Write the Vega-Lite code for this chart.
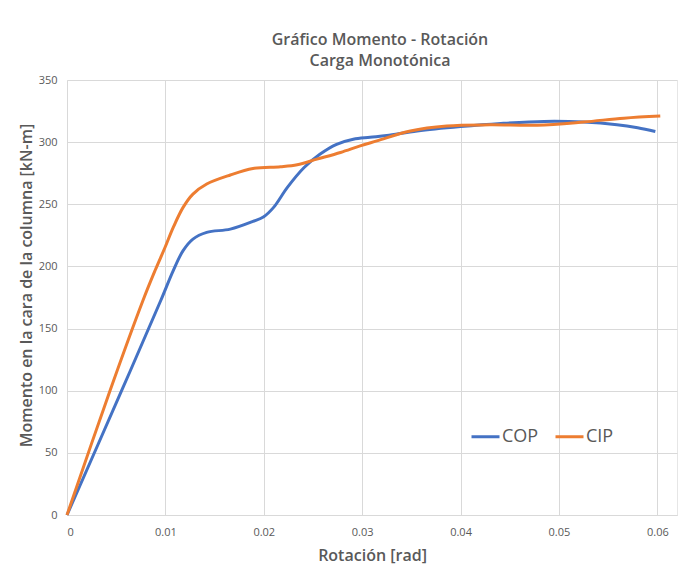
{
  "$schema": "https://vega.github.io/schema/vega-lite/v6.json",
  "width": 610,
  "height": 435,
  "autosize": "none",
  "padding": {"left": 67, "top": 80, "right": 9, "bottom": 58},
  "background": "white",
  "config": {
    "font": "Open Sans",
    "view": {"stroke": "#E6E6E6", "strokeWidth": 1}
  },
  "title": {
    "text": ["Gráfico Momento - Rotación", "Carga Monotónica"],
    "fontSize": 16,
    "fontWeight": 600,
    "color": "#595959",
    "anchor": "middle",
    "dx": 8,
    "offset": 5,
    "lineHeight": 21
  },
  "data": {
    "values": [
      {"rot": 0, "m": 0, "serie": "COP"},
      {"rot": 0.00555, "m": 100, "serie": "COP"},
      {"rot": 0.00953, "m": 172.6, "serie": "COP"},
      {"rot": 0.0108, "m": 196.7, "serie": "COP"},
      {"rot": 0.0118, "m": 212.7, "serie": "COP"},
      {"rot": 0.0128, "m": 222, "serie": "COP"},
      {"rot": 0.0142, "m": 227.4, "serie": "COP"},
      {"rot": 0.0166, "m": 230, "serie": "COP"},
      {"rot": 0.0189, "m": 236.2, "serie": "COP"},
      {"rot": 0.02, "m": 240, "serie": "COP"},
      {"rot": 0.021, "m": 247.5, "serie": "COP"},
      {"rot": 0.0224, "m": 263.6, "serie": "COP"},
      {"rot": 0.0241, "m": 279.6, "serie": "COP"},
      {"rot": 0.0257, "m": 290.3, "serie": "COP"},
      {"rot": 0.0274, "m": 298.3, "serie": "COP"},
      {"rot": 0.0291, "m": 302.4, "serie": "COP"},
      {"rot": 0.0308, "m": 303.9, "serie": "COP"},
      {"rot": 0.0325, "m": 305.3, "serie": "COP"},
      {"rot": 0.0356, "m": 309, "serie": "COP"},
      {"rot": 0.04, "m": 312.5, "serie": "COP"},
      {"rot": 0.0441, "m": 315, "serie": "COP"},
      {"rot": 0.0485, "m": 316.7, "serie": "COP"},
      {"rot": 0.0525, "m": 316.2, "serie": "COP"},
      {"rot": 0.0559, "m": 314, "serie": "COP"},
      {"rot": 0.058, "m": 311.5, "serie": "COP"},
      {"rot": 0.0598, "m": 308.5, "serie": "COP"},
      {"rot": 0, "m": 0, "serie": "CIP"},
      {"rot": 0.00437, "m": 100, "serie": "CIP"},
      {"rot": 0.00772, "m": 172.6, "serie": "CIP"},
      {"rot": 0.00895, "m": 196.7, "serie": "CIP"},
      {"rot": 0.00997, "m": 215.4, "serie": "CIP"},
      {"rot": 0.0108, "m": 231.4, "serie": "CIP"},
      {"rot": 0.0118, "m": 247.5, "serie": "CIP"},
      {"rot": 0.0128, "m": 258.2, "serie": "CIP"},
      {"rot": 0.0142, "m": 266.3, "serie": "CIP"},
      {"rot": 0.0166, "m": 273.6, "serie": "CIP"},
      {"rot": 0.0189, "m": 278.8, "serie": "CIP"},
      {"rot": 0.0217, "m": 280.2, "serie": "CIP"},
      {"rot": 0.0234, "m": 281.8, "serie": "CIP"},
      {"rot": 0.0254, "m": 286.3, "serie": "CIP"},
      {"rot": 0.0278, "m": 291.7, "serie": "CIP"},
      {"rot": 0.0298, "m": 297, "serie": "CIP"},
      {"rot": 0.0315, "m": 301, "serie": "CIP"},
      {"rot": 0.0349, "m": 309, "serie": "CIP"},
      {"rot": 0.0386, "m": 313, "serie": "CIP"},
      {"rot": 0.043, "m": 313.9, "serie": "CIP"},
      {"rot": 0.0478, "m": 313.6, "serie": "CIP"},
      {"rot": 0.0525, "m": 316.2, "serie": "CIP"},
      {"rot": 0.0566, "m": 319.3, "serie": "CIP"},
      {"rot": 0.0603, "m": 321, "serie": "CIP"}
    ]
  },
  "mark": {"type": "line", "interpolate": "catmull-rom", "strokeWidth": 3},
  "encoding": {
    "x": {
      "field": "rot",
      "type": "quantitative",
      "scale": {"domain": [0, 0.062], "nice": false, "zero": true},
      "axis": {
        "title": "Rotación [rad]",
        "values": [0, 0.01, 0.02, 0.03, 0.04, 0.05, 0.06],
        "format": ".2~f",
        "grid": true,
        "gridColor": "#D9D9D9",
        "domainColor": "#D9D9D9",
        "ticks": false,
        "labelPadding": 11,
        "labelFontSize": 11,
        "labelColor": "#595959",
        "titleFontSize": 16,
        "titleFontWeight": 600,
        "titleColor": "#595959",
        "titlePadding": 10
      }
    },
    "y": {
      "field": "m",
      "type": "quantitative",
      "scale": {"domain": [0, 350], "nice": false},
      "axis": {
        "title": "Momento en la cara de la columna  [kN-m]",
        "values": [0, 50, 100, 150, 200, 250, 300, 350],
        "grid": true,
        "gridColor": "#D9D9D9",
        "domain": false,
        "ticks": false,
        "labelPadding": 10,
        "labelFontSize": 11,
        "labelColor": "#595959",
        "titleFontSize": 16,
        "titleFontWeight": 600,
        "titleColor": "#595959",
        "titlePadding": 4,
        "titleY": 205
      }
    },
    "color": {
      "field": "serie",
      "type": "nominal",
      "scale": {"domain": ["COP", "CIP"], "range": ["#4472C4", "#ED7D31"]},
      "legend": {
        "title": null,
        "orient": "none",
        "direction": "horizontal",
        "legendX": 403,
        "legendY": 341,
        "symbolType": "stroke",
        "symbolStrokeWidth": 3,
        "symbolSize": 784,
        "labelFontSize": 18,
        "labelColor": "#595959",
        "labelOffset": 1,
        "columnPadding": 10
      }
    },
    "order": {"field": "rot", "type": "quantitative"}
  }
}
